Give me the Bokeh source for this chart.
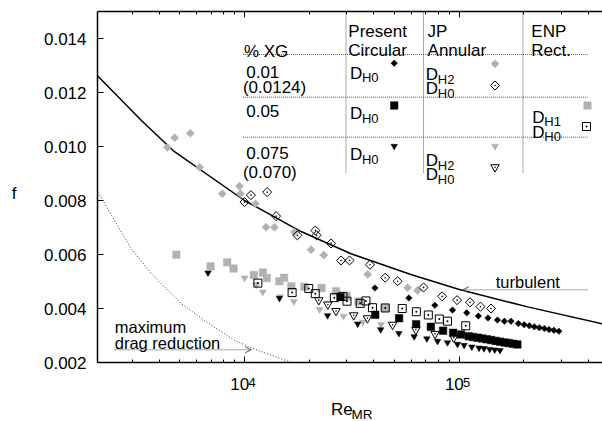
import numpy as np
from bokeh.plotting import figure
from bokeh.models import (Range1d, LogAxis, FixedTicker, CustomJSTickFormatter,
                          PrintfTickFormatter, Label, Arrow, OpenHead)
from bokeh.embed import file_html
from bokeh.resources import INLINE

# ---------------- data ----------------
present_001_re = [40540, 58340, 77090, 93180, 108600, 122900, 136400, 150900, 162600, 174600,
                  189000, 201100, 212600, 224300, 236600, 249600, 262700, 276700, 291900]
present_001_f = [0.00476, 0.00439, 0.00412, 0.00394, 0.00384, 0.00372, 0.00365, 0.00357, 0.00353, 0.00353,
                 0.00344, 0.00340, 0.00336, 0.00332, 0.00329, 0.00326, 0.00322, 0.00319, 0.00316]

present_005_re = [27970, 40670, 52540, 63100, 73860, 84260, 93780, 102100, 110900, 116400,
                  122200, 128200, 134500, 141200, 148200, 155500, 163100, 170300, 178700, 186900]
present_005_f = [0.00443, 0.00377, 0.00364, 0.00342, 0.00332, 0.00318, 0.00310, 0.00304, 0.00297, 0.00294,
                 0.00292, 0.00289, 0.00286, 0.00283, 0.00280, 0.00277, 0.00274, 0.00272, 0.00269, 0.00267]

present_0075_re = [6760, 14550, 24380, 33690, 43100, 52430, 61760, 70750, 79370, 88310,
                   98310, 105500, 114600, 123900, 130700, 138900, 146600, 155100]
present_0075_f = [0.00532, 0.00438, 0.00374, 0.00343, 0.00322, 0.00308, 0.00296, 0.00288, 0.00279, 0.00274,
                  0.00268, 0.00264, 0.00258, 0.00254, 0.00252, 0.00249, 0.00247, 0.00245]

jp_h2_001_re = [4370, 4725, 5590, 6180, 7880, 9480, 9580, 11250, 12600, 13790, 17080, 20430,
                23410, 37500, 57540, 64050]
jp_h2_001_f = [0.00997, 0.01032, 0.01049, 0.00923, 0.00825, 0.00853, 0.00825, 0.00788, 0.00701, 0.00701,
               0.00683, 0.00618, 0.00598, 0.00526, 0.00477, 0.00467]

jp_h0_001_re = [10000, 10710, 12750, 14040, 17640, 21390, 21670, 25310, 28180, 30860, 38430, 45280,
                51700, 68310, 83350, 97880, 112500, 125800, 140900]
jp_h0_001_f = [0.00794, 0.00820, 0.00831, 0.00742, 0.00671, 0.00689, 0.00671, 0.00641, 0.00578, 0.00578,
               0.00562, 0.00514, 0.00501, 0.00478, 0.00445, 0.00431, 0.00423, 0.00407, 0.00400]

jp_h2_0075_re = [10000, 11340, 12180, 14660, 16970, 22380, 28930, 35540, 43240]
jp_h2_0075_f = [0.00513, 0.00488, 0.00461, 0.00443, 0.00426, 0.00396, 0.00371, 0.00350, 0.00341]

jp_h0_0075_re = [22180, 24460, 26700, 32280, 37410, 48990, 62890, 77270, 94480]
jp_h0_0075_f = [0.00431, 0.00415, 0.00391, 0.00375, 0.00364, 0.00340, 0.00321, 0.00306, 0.00292]

enp_h1_005_re = [4810, 6950, 8310, 8890, 11040, 12180, 12710, 14550, 15300, 16540, 19010, 22860,
                 26700, 29980, 33980, 45280]
enp_h1_005_f = [0.00599, 0.00556, 0.00571, 0.00548, 0.00524, 0.00533, 0.00513, 0.00501, 0.00514, 0.00482,
                0.00481, 0.00476, 0.00464, 0.00445, 0.00426, 0.00402]

enp_h0_005_re = [11540, 16670, 19930, 21370, 26220, 28780, 30040, 34600, 36810, 39480, 45280, 54320,
                 63220, 71890, 80880, 88310, 107400]
enp_h0_005_f = [0.00494, 0.00459, 0.00474, 0.00455, 0.00440, 0.00445, 0.00427, 0.00419, 0.00428, 0.00403,
                0.00402, 0.00400, 0.00388, 0.00376, 0.00361, 0.00353, 0.00336]

turb_re = [2065, 3308, 4645, 10000, 18350, 31360, 59610, 99360, 208700, 465900]
turb_f = [0.01262, 0.01096, 0.00985, 0.00800, 0.00685, 0.00603, 0.00526, 0.00471, 0.00406, 0.00343]

mdr_re = [2076, 2399, 2972, 3681, 5077, 6637, 8985, 10940, 16490]
mdr_f = [0.00831, 0.00745, 0.00621, 0.00529, 0.00418, 0.00351, 0.00282, 0.00252, 0.00200]

y_ticks = [0.002, 0.004, 0.006, 0.008, 0.010, 0.012, 0.014]
x_major = [1e4, 1e5]
x_minor = [3000, 4000, 5000, 6000, 7000, 8000, 9000,
           20000, 30000, 40000, 50000, 60000, 70000, 80000, 90000,
           200000, 300000, 400000]

xg_labels = ["% XG", "0.01", "(0.0124)", "0.05", "0.075", "(0.070)"]
col_labels = [("Present", "Circular"), ("JP", "Annular"), ("ENP", "Rect.")]

# ---------------- layout (page pixels; the page shows the canvas at 0,0) ----------------
W, H = 602, 421
ML, MT = 96, 11
FB = 362
MB = H - FB
FW = W - ML
FH = FB - MT
DEC = 215.0
X0 = 2065.0
X1 = X0 * 10 ** (FW / DEC)
Y0, Y1 = 0.002, 0.015
FONT = "Liberation Sans"
GREY = "#b2b2b2"
DOT = "#555555"


def rx(px):
    return X0 * 10 ** ((px - ML) / DEC)


def fy(py):
    return Y1 - (py - MT) * (Y1 - Y0) / FH


p = figure(width=W, height=H, x_axis_type="log",
           x_range=Range1d(X0, X1), y_range=Range1d(Y0, Y1),
           output_backend="svg", toolbar_location=None,
           min_border_left=ML, min_border_right=0, min_border_top=MT, min_border_bottom=MB)
p.outline_line_color = None
p.grid.visible = False
p.background_fill_color = "white"
p.border_fill_color = "white"

xa = p.xaxis[0]
xa.ticker = FixedTicker(ticks=x_major, minor_ticks=x_minor)
xa.formatter = CustomJSTickFormatter(code="return '10\u2007'")
xa.major_tick_in = 6
xa.major_tick_out = 0
xa.minor_tick_in = 3
xa.minor_tick_out = 0
xa.axis_line_color = "black"
xa.axis_line_width = 1.5
xa.major_label_standoff = 12
xa.major_label_text_font = FONT
xa.major_label_text_font_size = "17px"
xa.major_label_text_color = "black"

top = LogAxis(ticker=FixedTicker(ticks=x_major, minor_ticks=x_minor),
              formatter=CustomJSTickFormatter(code="return ''"),
              major_tick_in=6, major_tick_out=0, minor_tick_in=3, minor_tick_out=0,
              major_label_standoff=0, axis_line_color="black", axis_line_width=1.5)
p.add_layout(top, "above")

ya = p.yaxis[0]
ya.ticker = FixedTicker(ticks=y_ticks)
ya.formatter = PrintfTickFormatter(format="%.3f")
ya.major_tick_in = 6
ya.major_tick_out = 0
ya.minor_tick_line_color = None
ya.major_label_standoff = 11
ya.major_label_text_font = FONT
ya.major_label_text_font_size = "17px"
ya.major_label_text_color = "black"
ya.axis_line_color = "black"
ya.axis_line_width = 1.5

# ---------------- curves ----------------
p.line(turb_re, turb_f, line_color="black", line_width=1.5)
p.line(mdr_re, mdr_f, line_color="#333333", line_width=1, line_dash="1 2")

# ---------------- markers ----------------
def grey_diamond(x, y):
    p.scatter(x, y, marker="square", angle=np.pi / 4, size=5.8, fill_color=GREY, line_color=GREY, line_width=0.5)

def open_diamond(x, y):
    p.scatter(x, y, marker="square_dot", angle=np.pi / 4, size=6.4, fill_color=None, line_color="black", line_width=1)

def black_diamond(x, y):
    p.scatter(x, y, marker="square", angle=np.pi / 4, size=4.6, fill_color="black", line_color="black", line_width=0.5)

def grey_square(x, y):
    p.scatter(x, y, marker="square", size=7.5, fill_color=GREY, line_color=GREY, line_width=0.5)

def open_square(x, y):
    p.scatter(x, y, marker="square_dot", size=8, fill_color=None, line_color="black", line_width=1)

def black_square(x, y):
    p.scatter(x, y, marker="square", size=7.5, fill_color="black", line_color="black", line_width=0.5)

def grey_tri(x, y):
    p.scatter(x, y, marker="inverted_triangle", size=7, fill_color=GREY, line_color=GREY, line_width=0.5)

def open_tri(x, y):
    p.scatter(x, y, marker="inverted_triangle", size=8.5, fill_color=None, line_color="black", line_width=1)
    p.scatter(x, y, marker="circle", size=1.6, fill_color="black", line_color=None)

def black_tri(x, y):
    p.scatter(x, y, marker="inverted_triangle", size=6.5, fill_color="black", line_color="black", line_width=0.5)

grey_diamond(jp_h2_001_re, jp_h2_001_f)
grey_square(enp_h1_005_re, enp_h1_005_f)
grey_tri(jp_h2_0075_re, jp_h2_0075_f)
open_diamond(jp_h0_001_re, jp_h0_001_f)
open_square(enp_h0_005_re, enp_h0_005_f)
open_tri(jp_h0_0075_re, jp_h0_0075_f)
black_diamond(present_001_re, present_001_f)
black_square(present_005_re, present_005_f)
black_tri(present_0075_re, present_0075_f)

# ---------------- table (key) ----------------
def txt(xp, yp, s, size="17px", align="left", where=None):
    lab = Label(x=rx(xp), y=fy(yp), text=s, text_font=FONT, text_font_size=size,
                text_align=align, text_baseline="alphabetic", text_color="black")
    if where is None:
        p.add_layout(lab)
    else:
        p.add_layout(lab, where)

def dsub(xp, yp, sub):
    txt(xp, yp, "D")
    txt(xp + 12, yp + 4.5, sub, size="13px")

hx = [241.7, 587]
hys = [54, 96.7, 136.7]
vxs = [345, 422.7, 522.3]
p.segment(x0=[rx(hx[0])] * 3, y0=[fy(v) for v in hys], x1=[rx(hx[1])] * 3, y1=[fy(v) for v in hys],
          line_color=DOT, line_width=1, line_dash="1 1")
p.segment(x0=[rx(v) for v in vxs], y0=[fy(MT)] * 3, x1=[rx(v) for v in vxs], y1=[fy(172.7)] * 3,
          line_color=DOT, line_width=1, line_dash="1 1")

txt(242.7, 50.7, xg_labels[0])
txt(245, 71, xg_labels[1])
txt(241.7, 87.3, xg_labels[2])
txt(245, 110.7, xg_labels[3])
txt(245, 152.7, xg_labels[4])
txt(241.7, 171.7, xg_labels[5])
for (a, b), xp in zip(col_labels, [347.3, 426.7, 530.7]):
    txt(xp, 31, a)
    txt(xp, 50, b)

dsub(349, 72.7, "H0")
dsub(425, 74, "H2")
dsub(425, 88.3, "H0")
dsub(349, 113.3, "H0")
dsub(531.7, 116.7, "H1")
dsub(531.7, 131.7, "H0")
dsub(349, 154, "H0")
dsub(425, 160, "H2")
dsub(425, 174, "H0")

black_diamond([rx(393.3)], [fy(62.7)])
grey_diamond([rx(494.3)], [fy(63.3)])
open_diamond([rx(494.3)], [fy(85)])
black_square([rx(393.3)], [fy(105)])
grey_square([rx(587)], [fy(105)])
open_square([rx(586)], [fy(126)])
black_tri([rx(393.3)], [fy(145.7)])
grey_tri([rx(494.3)], [fy(145.7)])
open_tri([rx(494.3)], [fy(166.7)])

# ---------------- curve labels ----------------
txt(495, 281.7, "turbulent", size="16.5px")
p.add_layout(Arrow(x_start=rx(587), y_start=fy(289.3), x_end=rx(462), y_end=fy(289.3),
                   end=OpenHead(size=6, line_color=DOT, line_width=1),
                   line_color=DOT, line_width=1, line_dash="1 1"))
txt(113.3, 326.7, "maximum", size="16.5px")
txt(113.3, 342.7, "drag reduction", size="16.5px")
p.add_layout(Arrow(x_start=rx(113), y_start=fy(349.3), x_end=rx(250), y_end=fy(349.3),
                   end=OpenHead(size=6, line_color=DOT, line_width=1),
                   line_color=DOT, line_width=1, line_dash="1 1"))

# ---------------- texts outside the frame (in side panels so they are not clipped) ----------------
for t in x_major:
    e = str(int(round(np.log10(t))))
    p.add_layout(Label(x=t, y=fy(381.7), text=e, x_offset=4.0, text_align="left",
                       text_baseline="alphabetic", text_font=FONT, text_font_size="13px",
                       text_color="black"), "left")

txt(10, 193.3, "f", where="left")
txt(350.5, 413.5, "MR", size="13.5px", where="left")
txt(330, 409, "Re", where="below")

open("out.html", "w").write(file_html(p, INLINE))
